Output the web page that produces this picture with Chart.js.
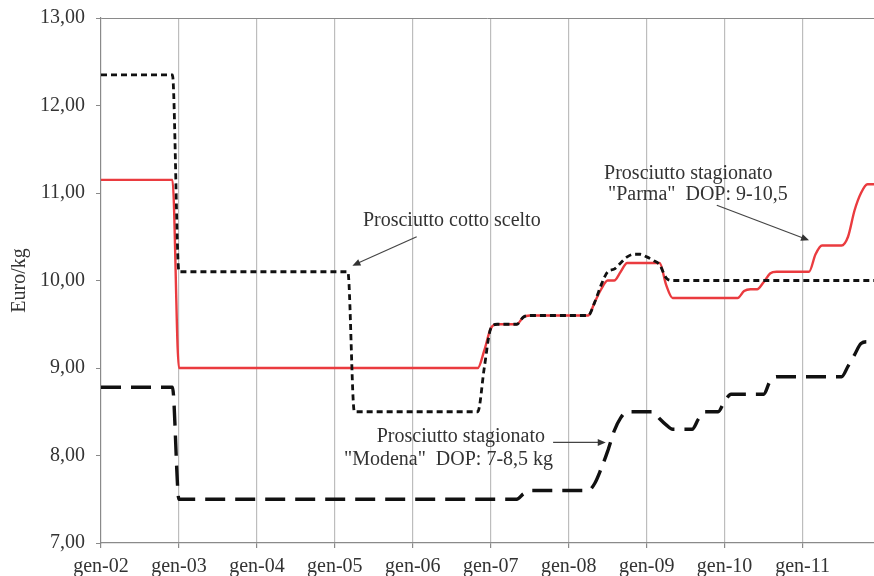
<!DOCTYPE html>
<html>
<head>
<meta charset="utf-8">
<script src="https://cdn.jsdelivr.net/npm/chart.js@4.4.1/dist/chart.umd.min.js"></script>
<style>
  html, body { margin: 0; padding: 0; background: #fff; }
  #wrap { width: 874px; height: 576px; position: relative; }
</style>
</head>
<body>
<div id="wrap"><canvas id="prezzi"></canvas></div>
<script>
// mesi e anni per le etichette dell'asse x (una per mese, gen-02 .. dic-11)
var mesi = ['gen', 'feb', 'mar', 'apr', 'mag', 'giu', 'lug', 'ago', 'set', 'ott', 'nov', 'dic'];
var anni = ['02', '03', '04', '05', '06', '07', '08', '09', '10', '11'];

// Prosciutto cotto scelto (Euro/kg)
var cottoScelto = [
    12.35, 12.35, 12.35, 12.35, 12.35, 12.35, 12.35, 12.35, 12.35, 12.35, 12.35, 12.35,
    10.1, 10.1, 10.1, 10.1, 10.1, 10.1, 10.1, 10.1, 10.1, 10.1, 10.1, 10.1,
    10.1, 10.1, 10.1, 10.1, 10.1, 10.1, 10.1, 10.1, 10.1, 10.1, 10.1, 10.1,
    10.1, 10.1, 10.1, 8.5, 8.5, 8.5, 8.5, 8.5, 8.5, 8.5, 8.5, 8.5,
    8.5, 8.5, 8.5, 8.5, 8.5, 8.5, 8.5, 8.5, 8.5, 8.5, 8.5, 9.0,
    9.45, 9.5, 9.5, 9.5, 9.5, 9.58, 9.6, 9.6, 9.6, 9.6, 9.6, 9.6,
    9.6, 9.6, 9.6, 9.6, 9.75, 9.95, 10.1, 10.13, 10.2, 10.27, 10.3, 10.3,
    10.27, 10.23, 10.18, 10.03, 10.0, 10.0, 10.0, 10.0, 10.0, 10.0, 10.0, 10.0,
    10.0, 10.0, 10.0, 10.0, 10.0, 10.0, 10.0, 10.0, 10.0, 10.0, 10.0, 10.0,
    10.0, 10.0, 10.0, 10.0, 10.0, 10.0, 10.0, 10.0, 10.0, 10.0, 10.0, 10.0
];

// Prosciutto stagionato "Parma" DOP 9-10,5 kg
var parma = [
    11.15, 11.15, 11.15, 11.15, 11.15, 11.15, 11.15, 11.15, 11.15, 11.15, 11.15, 11.15,
    9.0, 9.0, 9.0, 9.0, 9.0, 9.0, 9.0, 9.0, 9.0, 9.0, 9.0, 9.0,
    9.0, 9.0, 9.0, 9.0, 9.0, 9.0, 9.0, 9.0, 9.0, 9.0, 9.0, 9.0,
    9.0, 9.0, 9.0, 9.0, 9.0, 9.0, 9.0, 9.0, 9.0, 9.0, 9.0, 9.0,
    9.0, 9.0, 9.0, 9.0, 9.0, 9.0, 9.0, 9.0, 9.0, 9.0, 9.0, 9.2,
    9.45, 9.5, 9.5, 9.5, 9.5, 9.58, 9.6, 9.6, 9.6, 9.6, 9.6, 9.6,
    9.6, 9.6, 9.6, 9.6, 9.75, 9.9, 10.0, 10.0, 10.1, 10.2, 10.2, 10.2,
    10.2, 10.2, 10.2, 9.95, 9.8, 9.8, 9.8, 9.8, 9.8, 9.8, 9.8, 9.8,
    9.8, 9.8, 9.8, 9.88, 9.9, 9.9, 9.98, 10.08, 10.1, 10.1, 10.1, 10.1,
    10.1, 10.1, 10.3, 10.4, 10.4, 10.4, 10.4, 10.5, 10.8, 11.0, 11.1, 11.1
];

// Prosciutto stagionato "Modena" DOP 7-8,5 kg
var modena = [
    8.78, 8.78, 8.78, 8.78, 8.78, 8.78, 8.78, 8.78, 8.78, 8.78, 8.78, 8.78,
    7.5, 7.5, 7.5, 7.5, 7.5, 7.5, 7.5, 7.5, 7.5, 7.5, 7.5, 7.5,
    7.5, 7.5, 7.5, 7.5, 7.5, 7.5, 7.5, 7.5, 7.5, 7.5, 7.5, 7.5,
    7.5, 7.5, 7.5, 7.5, 7.5, 7.5, 7.5, 7.5, 7.5, 7.5, 7.5, 7.5,
    7.5, 7.5, 7.5, 7.5, 7.5, 7.5, 7.5, 7.5, 7.5, 7.5, 7.5, 7.5,
    7.5, 7.5, 7.5, 7.5, 7.5, 7.56, 7.6, 7.6, 7.6, 7.6, 7.6, 7.6,
    7.6, 7.6, 7.6, 7.6, 7.68, 7.85, 8.05, 8.28, 8.43, 8.5, 8.5, 8.5,
    8.5, 8.5, 8.42, 8.35, 8.3, 8.3, 8.3, 8.3, 8.42, 8.5, 8.5, 8.5,
    8.62, 8.7, 8.7, 8.7, 8.7, 8.7, 8.7, 8.85, 8.9, 8.9, 8.9, 8.9,
    8.9, 8.9, 8.9, 8.9, 8.9, 8.9, 8.9, 9.02, 9.15, 9.28, 9.3, 9.3
];

// etichette dei mesi
var etichette = [];
anni.forEach(function (a) {
    mesi.forEach(function (m) {
        etichette.push(m + '-' + a);
    });
});

// didascalie con freccia, in coordinate dei dati (indice mese, euro/kg)
var note = [
    { righe: ['Prosciutto cotto scelto'], x: [54.0], y: [10.68],
      freccia: [48.6, 10.50, 38.7, 10.17] },
    { righe: ['Prosciutto stagionato', ' "Parma"  DOP: 9-10,5'], x: [90.4, 91.5], y: [11.22, 10.98],
      freccia: [94.8, 10.86, 109.0, 10.46] },
    { righe: ['Prosciutto stagionato', '"Modena"  DOP: 7-8,5 kg'], x: [55.4, 53.5], y: [8.22, 7.95],
      freccia: [69.6, 8.15, 77.7, 8.15] }
];

var FONT = '"Liberation Serif", "Times New Roman", serif';
var TESTO = '#333333';
var GRIGLIA = '#bdbdbd';
var ASSE = '#8a8a8a';

/**
 * Disegna le didascalie e le frecce sopra il grafico
 */
var pluginNote = {
    id: 'note',
    afterDatasetsDraw: function (chart) {
        let ctx = chart.ctx;
        let sx = chart.scales.x;
        let sy = chart.scales.y;
        ctx.save();
        ctx.font = '20px ' + FONT;
        ctx.fillStyle = TESTO;
        ctx.strokeStyle = '#444';
        ctx.textAlign = 'center';
        ctx.textBaseline = 'middle';
        note.forEach(function (n) {
            n.righe.forEach(function (r, i) {
                ctx.fillText(r, sx.getPixelForValue(n.x[i]), sy.getPixelForValue(n.y[i]));
            });
            let x0 = sx.getPixelForValue(n.freccia[0]), y0 = sy.getPixelForValue(n.freccia[1]);
            let x1 = sx.getPixelForValue(n.freccia[2]), y1 = sy.getPixelForValue(n.freccia[3]);
            let ang = Math.atan2(y1 - y0, x1 - x0);
            ctx.lineWidth = 1.2;
            ctx.beginPath();
            ctx.moveTo(x0, y0);
            ctx.lineTo(x1 - 5 * Math.cos(ang), y1 - 5 * Math.sin(ang));
            ctx.stroke();
            ctx.beginPath();
            ctx.moveTo(x1, y1);
            ctx.lineTo(x1 - 8 * Math.cos(ang) + 3.5 * Math.sin(ang), y1 - 8 * Math.sin(ang) - 3.5 * Math.cos(ang));
            ctx.lineTo(x1 - 8 * Math.cos(ang) - 3.5 * Math.sin(ang), y1 - 8 * Math.sin(ang) + 3.5 * Math.cos(ang));
            ctx.closePath();
            ctx.fillStyle = '#333';
            ctx.fill();
            ctx.fillStyle = TESTO;
        });
        ctx.restore();
    }
};

function buildGraph(id) {
    let ctx = document.getElementById(id).getContext('2d');
    return new Chart(ctx, {
        type: 'line',
        data: {
            labels: etichette,
            datasets: [{
                label: 'Prosciutto cotto scelto',
                data: cottoScelto,
                borderColor: '#111',
                borderWidth: 2.8,
                borderDash: [6, 4]
            }, {
                label: 'Prosciutto stagionato "Parma" DOP: 9-10,5',
                data: parma,
                borderColor: '#ea3b3f',
                borderWidth: 2.4
            }, {
                label: 'Prosciutto stagionato "Modena" DOP: 7-8,5 kg',
                data: modena,
                borderColor: '#111',
                borderWidth: 3.4,
                borderDash: [20, 10]
            }]
        },
        options: {
            responsive: true,
            maintainAspectRatio: false,
            animation: false,
            layout: { padding: { top: 18, right: 0, left: 0, bottom: 0 } },
            elements: {
                point: { radius: 0 },
                line: { cubicInterpolationMode: 'monotone', fill: false }
            },
            plugins: {
                legend: { display: false },
                tooltip: { enabled: false }
            },
            scales: {
                x: {
                    afterFit: function (scale) {
                        scale.height = 33;
                        scale.paddingLeft = 0;
                        scale.paddingRight = 0;
                    },
                    border: { color: ASSE, width: 1.2 },
                    grid: {
                        color: function (c) { return (c.index % 12 === 0 && c.index > 0) ? GRIGLIA : 'rgba(0,0,0,0)'; },
                        tickColor: function (c) { return c.index % 12 === 0 ? ASSE : 'rgba(0,0,0,0)'; },
                        tickLength: 5,
                        lineWidth: 1.2
                    },
                    ticks: {
                        autoSkip: false,
                        maxRotation: 0,
                        padding: 7,
                        color: TESTO,
                        font: { family: FONT, size: 20 },
                        callback: function (v, i) { return i % 12 === 0 ? etichette[i] : ''; }
                    }
                },
                y: {
                    min: 7,
                    max: 13,
                    afterFit: function (scale) {
                        scale.width = 101;
                        scale.paddingTop = 0;
                        scale.paddingBottom = 0;
                    },
                    border: { color: ASSE, width: 1.2 },
                    grid: {
                        color: function (c) { return c.tick && c.tick.value === 13 ? ASSE : 'rgba(0,0,0,0)'; },
                        tickColor: ASSE,
                        tickLength: 5
                    },
                    ticks: {
                        stepSize: 1,
                        padding: 11,
                        color: TESTO,
                        font: { family: FONT, size: 20 },
                        callback: function (v) { return v.toFixed(2).replace('.', ','); }
                    },
                    title: {
                        display: true,
                        text: 'Euro/kg',
                        color: TESTO,
                        font: { family: FONT, size: 20 },
                        padding: { top: 8, bottom: 0 }
                    }
                }
            }
        },
        plugins: [pluginNote]
    });
}

var grafico = buildGraph('prezzi');
</script>
</body>
</html>
